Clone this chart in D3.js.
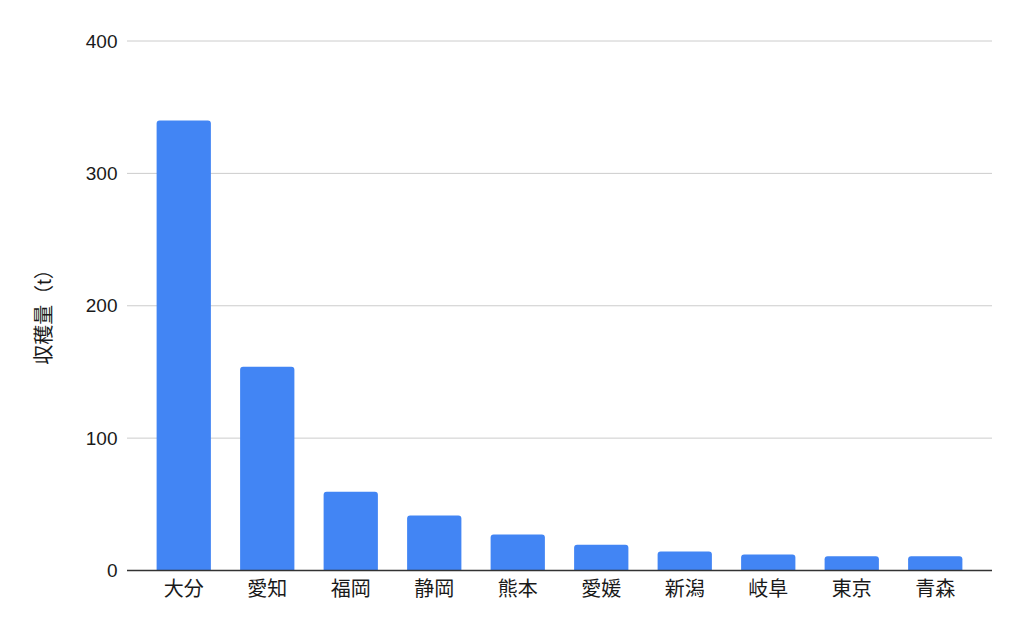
<!DOCTYPE html>
<html>
<head>
<meta charset="utf-8">
<script src="https://cdn.jsdelivr.net/npm/d3@7"></script>
<style>
  body { margin: 0; background: #fff; }
  #chart { width: 1024px; height: 633px; }
  text { font-family: "Liberation Sans", Arial, "Noto Sans CJK JP", sans-serif; }
</style>
</head>
<body>
<div id="chart"></div>
<script>
// prefectures and harvest (t)
var prefectures = ["大分", "愛知", "福岡", "静岡", "熊本", "愛媛", "新潟", "岐阜", "東京", "青森"];
var harvest = [340, 154, 59.5, 41.6, 27.2, 19.5, 14.4, 12.1, 10.8, 10.8];
var yTicks = [0, 100, 200, 300, 400];
var yTitle = "収穫量（t）";

var width = 1024, height = 633;
var gridLeft = 127, gridRight = 992;
var plotTop = 41, plotBottom = 570.5;

var svg = d3.select("#chart").append("svg")
	.attr("width", width)
	.attr("height", height);

var x = d3.scaleBand()
	.domain(prefectures)
	.range([142, 977])
	.paddingInner(0.35)
	.paddingOuter(0.175);

var y = d3.scaleLinear()
	.domain([0, 400])
	.range([plotBottom, plotTop]);

// gridlines
svg.append("g")
	.selectAll("line")
	.data(yTicks.filter(function(d) { return d > 0; }))
	.join("line")
	.attr("x1", gridLeft)
	.attr("x2", gridRight)
	.attr("y1", function(d) { return y(d); })
	.attr("y2", function(d) { return y(d); })
	.attr("stroke", "#cccccc")
	.attr("stroke-width", 1);

// y axis labels
var yAxis = svg.append("g")
	.attr("transform", "translate(117.5,0)")
	.call(d3.axisLeft(y).tickValues(yTicks).tickSize(0).tickPadding(0));
yAxis.select(".domain").remove();
yAxis.selectAll("text")
	.style("font-size", "19px")
	.style("fill", "#1a1a1a");

// bars, rounded at the top
var r = 3;
svg.append("g")
	.selectAll("path")
	.data(prefectures)
	.join("path")
	.attr("fill", "#4285f4")
	.attr("d", function(d, i) {
		var x0 = x(d), x1 = x(d) + x.bandwidth();
		var top = y(harvest[i]), bot = y(0);
		return "M" + x0 + "," + bot +
			"V" + (top + r) +
			"Q" + x0 + "," + top + " " + (x0 + r) + "," + top +
			"H" + (x1 - r) +
			"Q" + x1 + "," + top + " " + x1 + "," + (top + r) +
			"V" + bot + "Z";
	});

// baseline
svg.append("line")
	.attr("x1", gridLeft)
	.attr("x2", gridRight)
	.attr("y1", y(0))
	.attr("y2", y(0))
	.attr("stroke", "#333")
	.attr("stroke-width", 1.3);

// x axis labels
var xAxis = svg.append("g")
	.attr("transform", "translate(0," + y(0) + ")")
	.call(d3.axisBottom(x).tickSize(0).tickPadding(11));
xAxis.select(".domain").remove();
xAxis.selectAll("text")
	.style("font-size", "20px")
	.style("fill", "#1a1a1a");

// y title
svg.append("text")
	.attr("transform", "translate(51,312) rotate(-90)")
	.attr("text-anchor", "middle")
	.style("font-size", "20px")
	.style("fill", "#1a1a1a")
	.text(yTitle);
</script>
</body>
</html>
